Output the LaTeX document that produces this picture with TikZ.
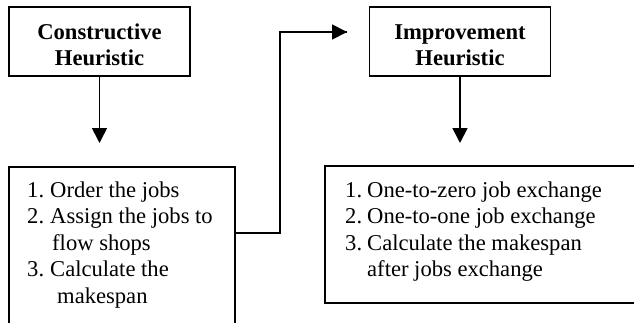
\documentclass[tikz,border=0pt]{standalone}
\usepackage{fontspec}
\setmainfont{Liberation Serif}
\usetikzlibrary{arrows.meta,calc}
\begin{document}
\begin{tikzpicture}[x=1pt,y=-1pt,
  frame/.style={draw=black,line width=1.8pt,rectangle,inner sep=0pt,outer sep=0pt},
  openbox/.style={rectangle,inner sep=0pt,outer sep=0pt},
  edge/.style={line width=1.8pt,line join=miter},
  headbox/.style={frame,minimum width=181pt,minimum height=69pt},
  headtext/.style={anchor=base,inner sep=0pt,align=center,
    font=\fontsize{22.6}{26}\selectfont\bfseries},
  listtext/.style={anchor=base west,inner sep=0pt,font=\fontsize{22.6}{26.5}\selectfont},
  conn/.style={line width=1.8pt,-{Triangle[length=15pt,width=15pt]}},
  link/.style={line width=1.8pt}]
\useasboundingbox (0,0) rectangle (634,322);
% heading boxes
\node[headbox] (ch) at (99.5,41.5) {};
\node[headtext] (cht) at (99.5,65.5) {Constructive\\Heuristic};
\node[headbox] (ih) at (460,41.5) {};
\node[headtext] (iht) at (460,65.5) {Improvement\\Heuristic};
% list boxes (cut off by the picture edge)
\node[openbox,minimum width=226pt,minimum height=156pt] (box3) at (122,245) {};
\draw[edge] (box3.south west) -- (box3.north west) -- (box3.north east) -- (box3.south east);
\node[openbox,minimum width=310pt,minimum height=137pt] (box4) at (480,234.5) {};
\draw[edge] (box4.north east) -- (box4.north west) -- (box4.south west) -- (box4.south east);
% list texts
\node[listtext] (l3) at (27,197) {\begin{tabular}[t]{@{}p{23pt}@{}l@{}}
1. & Order the jobs\\
2. & Assign the jobs to\\
 & \hspace{2pt}flow shops\\
3. & Calculate the\\
 & \hspace{7pt}makespan
\end{tabular}};
\node[listtext] (l4) at (345,197) {\begin{tabular}[t]{@{}p{22pt}@{}l@{}}
1. & One-to-zero job exchange\\
2. & One-to-one job exchange\\
3. & Calculate the makespan\\
 & after jobs exchange
\end{tabular}};
% arrows
\coordinate (a1) at (ch.south |- 0,143);
\coordinate (a2) at (ih.south |- 0,143);
\draw[conn] (ch.south) -- (a1);
\draw[conn] (ih.south) -- (a2);
\coordinate (c3) at (box3.east |- 0,233);
\coordinate (tip) at (347,32);
\draw[link] (c3) -- (280,233) -- (280,32) -- (tip);
\draw[conn] (300,32) -- (tip);
\end{tikzpicture}
\end{document}
